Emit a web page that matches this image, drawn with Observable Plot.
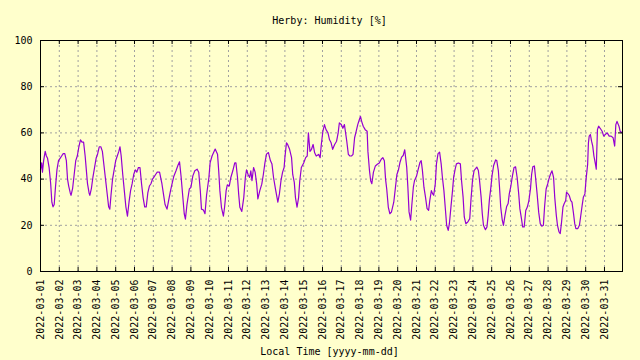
<!DOCTYPE html>
<html><head><meta charset="utf-8">
<script src="https://cdn.jsdelivr.net/npm/d3@7"></script>
<script src="https://cdn.jsdelivr.net/npm/@observablehq/plot@0.6"></script>
<style>
html,body{margin:0;padding:0;background:#ffffcc;}
#chart{width:640px;height:360px;}
</style></head><body><div id="chart"></div>
<script>
const title = "Herby: Humidity [%]";
const xLabel = "Local Time [yyyy-mm-dd]";
const dayLabels = ["2022-03-01","2022-03-02","2022-03-03","2022-03-04","2022-03-05","2022-03-06","2022-03-07","2022-03-08","2022-03-09","2022-03-10","2022-03-11","2022-03-12","2022-03-13","2022-03-14","2022-03-15","2022-03-16","2022-03-17","2022-03-18","2022-03-19","2022-03-20","2022-03-21","2022-03-22","2022-03-23","2022-03-24","2022-03-25","2022-03-26","2022-03-27","2022-03-28","2022-03-29","2022-03-30","2022-03-31"];
const yTicks = [0,20,40,60,80,100];
// [hours since 2022-03-01 00:00, relative humidity %]
const week1 = [[0,44],[1.5,47],[2.5,43],[4,48],[6,52],[7.5,50],[9,49],[11,45],[13,38],[14.5,30],[16,28],[17.5,29],[19,36],[21,44],[23,48],[25,49],[27,50],[29,51],[31,51],[33,48],[34.5,40],[36,37],[38,34],[39,33],[41,36],[43,42],[45,48],[47,50],[49,54],[51,57],[53,56],[55,56],[57,50],[58.5,44],[60,38],[62,34],[63,33],[65,36],[67,41],[69,45],[71,49],[73,51],[75,54],[77,54],[79,52],[81,46],[83,40],[85,34],[87,28],[88.5,27],[90,33],[92,40],[94,44],[96,48],[98,50],[100,52],[101.5,54],[103,50],[105,42],[107,35],[109,28],[111,24],[113,30],[115,35],[117,38],[119,42],[121,44],[123,43],[125,45],[127,45],[129,38],[131,32],[133,28],[135,28],[137,34],[139,37],[141,38],[143,40],[145,41],[147,42],[149,43],[152,43],[155,38],[157,33.5],[159,29],[161.5,27],[163.5,30.6],[166,35]];
const week2 = [[168,38],[170,41],[173,43.6],[175.5,46],[177.5,47.5],[179.5,41],[181.5,33],[183.5,25],[185,22.7],[187,29],[190,35.7],[192,36.4],[194.5,41.4],[197,43.6],[200,44.3],[202,43],[204,35],[205.5,27],[208,26.6],[210,25],[212,33],[215,40.7],[216.5,47],[219,50],[221,51.5],[223,53],[226,50.8],[227.5,43.6],[229,35],[231,27.8],[233.5,24],[235,27.8],[237,35],[238.5,37.5],[241,37],[243,40.7],[245.5,43.6],[248,47],[249.5,47],[251.5,40.7],[253,33.5],[254.5,27.8],[257,26],[259.5,32],[261.5,40.7],[263,44],[265,42],[267,40.7],[268.5,43.6],[270,39.3],[272,45],[274,43],[276,37.8],[277.5,31.4],[280,35],[282.5,37.8],[284.5,42],[286.5,47],[288.5,50.8],[291,51.5],[293.5,48],[295.5,46.5],[297.5,40.7],[300,35.7],[303,30],[305,33.6],[307,39.3],[309,42.9],[311,45],[312,49.3],[314,55.7],[315.5,55],[318,52.9],[320.5,49.3],[322,42],[324,38.6],[325.5,32],[327.5,27.9],[329.5,32],[331,39.3],[333,45]];
const week3 = [[336,47],[338.5,49.3],[340.5,50],[342,60],[344,52],[346,52.9],[348,55],[350,51.4],[352,50],[355,50.7],[357,49.3],[358.5,55],[360.5,60.7],[362.5,63.6],[364.5,61.4],[367,60],[369,57],[371,55.7],[373,52.9],[375.5,55],[378,56.4],[380,60],[381.5,64.3],[384,63.6],[386,62],[388,63.6],[389.5,60],[391,56.4],[393,50.7],[395,50],[397,50],[399,50.7],[401,57.9],[403,60.7],[405,63.6],[407,65.7],[408.5,67.1],[410,65],[412,62.9],[414.5,61.4],[417,60.7],[418,52],[420,43.6],[421.5,39.3],[423,38],[425,42.9],[427.5,45.7],[430,46.4],[432.5,47],[435,48.6],[437,49.3],[439,47.9],[440.5,40],[442,35.7],[444,27.9],[446,25],[448,25.7],[449.5,27.9],[451,30],[453,36],[455,42],[457,44],[459,47.3],[461,49.5],[463,50.2],[465,52.7],[467.5,45.2],[469,36.5],[470.5,25.8],[472.5,22.2],[474,28.6],[476,36.5],[477.5,39.4],[480,41.2],[482,44],[484.5,47.3],[486,48],[487.5,44],[489.5,36.5],[491.5,32.2],[493.5,27.2],[495.5,26.5],[497,30.8],[499,35],[500.5,33.7],[502,33]];
const week4 = [[504,38],[505.5,46.6],[507.5,51],[509.5,51.7],[511.5,46.6],[513,41],[515,35],[517,26.5],[518.5,20],[520.5,17.8],[522,20.7],[524,28],[526,35],[527.5,41],[529.5,44.5],[531,46.6],[533.5,47],[536,46.6],[537.5,39.4],[539.5,32.2],[541,23.6],[543,20.7],[545.5,21.4],[548,22.9],[549.5,30.8],[551.5,39.4],[553.5,43.7],[555.5,44.5],[557,45.2],[559,43.7],[560.5,39.4],[562.5,32.2],[564,25],[565.5,20],[568,18.1],[570,19.3],[571.5,24.3],[573,30.8],[575,36.5],[576.5,41.6],[578.5,45.9],[581,48.3],[582.5,48],[584.5,43.7],[586,36.5],[587.5,28],[589.5,22.2],[591,20],[593,24.3],[595,28],[597,29.4],[598.5,33.7],[600.5,37],[602.5,41.4],[604.5,45],[606.5,45.3],[608.5,40.7],[610.5,33.6],[612,27.1],[614,22.9],[615.5,19.3],[617.5,19.3],[619.5,26.4],[621.5,27.9],[623.5,30.7],[625.5,35.7],[627,42.1],[628.5,45.3],[630.5,45.7],[632,40.7],[634,33.6],[636,25.7],[638,20.7],[640,19.6],[642,20],[643.5,27.9],[645.5,35.7],[647.5,37.9],[649,40],[651,42.1],[653,43.6],[655,40.7],[656.5,32.1],[658.5,24.3],[660,20],[662,17.1],[663.5,16.4],[665,20.7],[667,27.9],[668.5,29.3],[670.5,30.7]];
const week5 = [[671.5,34.3],[673.5,33.6],[675,32.9],[677,30.7],[678.5,30],[680.5,25],[682,20.7],[683.5,18.6],[686,18.6],[688,20],[689.5,23.6],[691.5,28.6],[693,32.1],[695,33.6],[696.5,40],[698.5,46.4],[699.5,55.7],[700.5,58.6],[702,59.3],[703.5,56.4],[705,54.3],[706.5,50],[708.5,46.4],[709.5,44.3],[711,61.4],[712.5,62.9],[714.5,62],[717,60.7],[719,58.6],[721,59.3],[723.5,60],[726,58.6],[728.5,58.6],[731,57.9],[733,54.3],[734.5,63.6],[736,65],[738.5,62.9],[740,60.7],[743,60]];

const start = Date.UTC(2022, 2, 1);
const readings = [...week1, ...week2, ...week3, ...week4, ...week5]
  .map(([h, v]) => ({time: new Date(start + h * 3600000), rh: v}));
const dayTicks = dayLabels.map(s => new Date(s + "T00:00:00Z"));
const xDomain = [readings[0].time, readings[readings.length - 1].time];

const gridStyle = {stroke: "#a0a0a0", strokeWidth: 1, strokeDasharray: "2,3"};

const chart = Plot.plot({
  width: 640, height: 360,
  marginLeft: 40, marginRight: 18, marginTop: 40, marginBottom: 89,
  style: {background: "transparent", fontFamily: "'DejaVu Sans Mono', monospace", fontSize: "10px", color: "#000"},
  x: {type: "utc", domain: xDomain},
  y: {domain: [0, 100]},
  marks: [
    Plot.ruleY(yTicks.filter(v => v > 0 && v < 100), {y: d => d, ...gridStyle}),
    Plot.ruleX(dayTicks.slice(1), {x: d => d, ...gridStyle}),
    Plot.line(readings, {x: "time", y: "rh", stroke: "#9400d3", strokeWidth: 1.2}),
    Plot.tickX(dayTicks, {x: d => d, insetTop: 227, stroke: "#000"}),
    Plot.tickX(dayTicks, {x: d => d, insetBottom: 227, stroke: "#000"}),
    Plot.tickY(yTicks, {y: d => d, insetRight: 578, stroke: "#000"}),
    Plot.tickY(yTicks, {y: d => d, insetLeft: 578, stroke: "#000"}),
    Plot.frame({stroke: "#000"}),
    Plot.axisY({ticks: yTicks, tickSize: 0, tickPadding: 8, label: null}),
    Plot.axisX({ticks: dayTicks, tickSize: 0, tickPadding: 8, tickRotate: -90, tickFormat: d3.utcFormat("%Y-%m-%d"), label: null}),
    Plot.text([title], {frameAnchor: "top", lineAnchor: "middle", dy: -20, dx: -2}),
    Plot.text([xLabel], {frameAnchor: "bottom", lineAnchor: "middle", dy: 80, dx: -2})
  ]
});
document.getElementById("chart").appendChild(chart);
</script>
</body></html>
